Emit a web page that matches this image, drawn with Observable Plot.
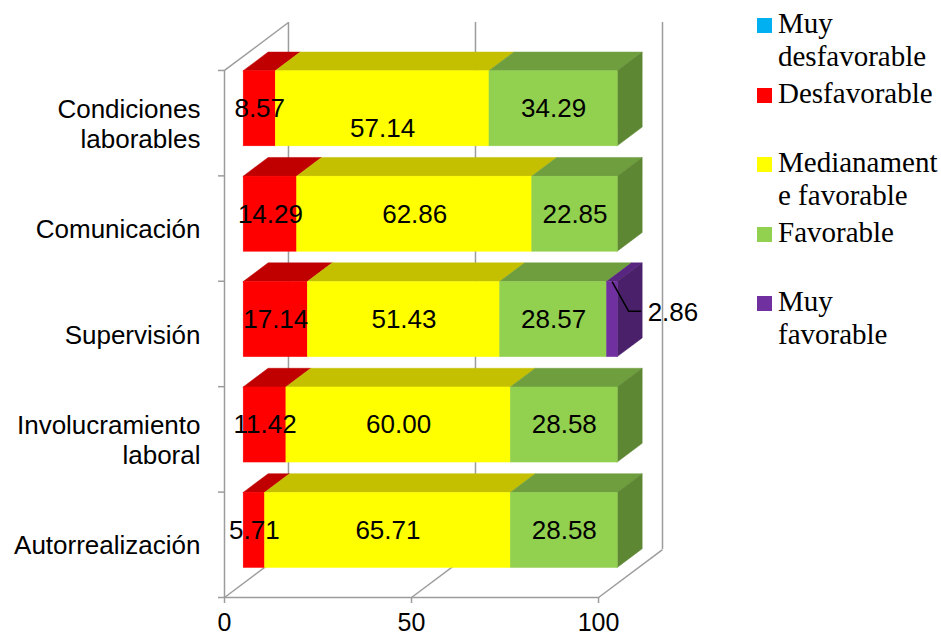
<!DOCTYPE html>
<html><head><meta charset="utf-8">
<script src="https://cdn.jsdelivr.net/npm/d3@7"></script>
<script src="https://cdn.jsdelivr.net/npm/@observablehq/plot@0.6"></script>
<style>
body{margin:0;background:#fff;}
#wrap{position:relative;width:941px;height:637px;overflow:hidden;}
#chart{position:absolute;left:0;top:0;}
.legend{position:absolute;left:757px;top:0;width:184px;height:400px;font-family:"Liberation Serif","Times New Roman",serif;font-size:29px;line-height:33px;color:#000;}
.item{position:absolute;left:0;white-space:pre;}
.sw{position:absolute;left:0;top:11px;width:15px;height:15px;}
.lbl{position:absolute;left:21px;top:0;}
</style></head><body><div id="wrap"><div id="chart"></div><div class="legend" id="legend"></div></div>
<script>
// ---- data ----
const categories = ["Condiciones laborables","Comunicación","Supervisión","Involucramiento laboral","Autorrealización"];
const categoryLabels = ["Condiciones\nlaborables","Comunicación","Supervisión","Involucramiento\nlaboral","Autorrealización"];
const series = ["Muy desfavorable","Desfavorable","Medianamente favorable","Favorable","Muy favorable"];
const legendLabels = ["Muy\ndesfavorable","Desfavorable","Medianament\ne favorable","Favorable","Muy\nfavorable"];
const muyDesfavorable = [0,0,0,0,0];
const desfavorable   = [8.57,14.29,17.14,11.42,5.71];
const medianamente   = [57.14,62.86,51.43,60.00,65.71];
const favorable      = [34.29,22.85,28.57,28.58,28.58];
const muyFavorable   = [0,0,2.86,0,0];
const xTicks = [0,50,100];

// ---- styles ----
const frontColor = ["#00B0F0","#FF0000","#FFFF00","#92D050","#7030A0"];
const topColor   = ["#0088BA","#C00000","#C4C000","#6F9E3F","#582680"];
const sideColor  = ["#0077A3","#A80000","#A8A500","#5E8733","#4A206B"];
const gridColor = "#9C9C9C";

// 3D oblique projection (depth in value units / row units)
const DX = 17.1, DY = 0.455, Z0 = 0.3, Z1 = 0.69, PAD = 0.144;
const X = (v, z) => v + z * DX;
const Y = (r, z) => r - z * DY;

const seriesValues = [muyDesfavorable, desfavorable, medianamente, favorable, muyFavorable];
const segs = [];
categories.forEach((c, i) => {
  let s = 0;
  seriesValues.forEach((vals, k) => {
    const v = vals[i];
    if (v > 0) { segs.push({i, k, c, v, s, e: s + v, id: i * 10 + k, last: false}); s += v; }
  });
  segs[segs.length - 1].last = true;
});
const topPts = segs.flatMap(d => [Z0, Z1].map(z => ({id: d.id, k: d.k, x1: X(d.s, z), x2: X(d.e, z), y: Y(d.i + PAD, z)})));
const sidePts = segs.filter(d => d.last).flatMap(d => [Z0, Z1].map(z => ({id: d.id, k: d.k, x: X(d.e, z), y1: Y(d.i + 1 - PAD, z), y2: Y(d.i + PAD, z)})));
const inside = segs.filter(d => d.v >= 4);
const outside = segs.filter(d => d.v < 4);
const leaderPts = outside.flatMap(d => [
  {id: d.id, x: X(d.s + d.v / 2, Z0), y: Y(d.i + PAD, Z0)},
  {id: d.id, x: X(d.e + 2.9, Z0), y: Y(d.i + 0.42, Z0)},
  {id: d.id, x: X(d.e + 6.1, Z0), y: Y(d.i + 0.42, Z0)}
]);
const rows = d3.range(categories.length + 1);

const chart = Plot.plot({
  width: 941, height: 637,
  marginLeft: 224, marginRight: 279, marginTop: 22, marginBottom: 40,
  x: {domain: [0, 100 + DX]},
  y: {domain: [-DY, categories.length], reverse: true},
  color: {type: "identity"},
  style: {fontFamily: "'Liberation Sans', Arial, sans-serif", fontSize: "26px", background: "white", overflow: "visible"},
  marks: [
    // back wall gridlines
    Plot.ruleX(xTicks, {x: d => X(d, 1), y1: Y(0, 1), y2: Y(categories.length, 1), stroke: gridColor, strokeWidth: 1.5}),
    // floor lines
    Plot.link(xTicks, {x1: d => d, y1: categories.length, x2: d => X(d, 1), y2: Y(categories.length, 1), stroke: gridColor, strokeWidth: 1.5}),
    // left wall
    Plot.ruleX([0], {y1: 0, y2: categories.length, stroke: gridColor, strokeWidth: 1.5}),
    Plot.link([0], {x1: 0, y1: 0, x2: X(0, 1), y2: Y(0, 1), stroke: gridColor, strokeWidth: 1.5}),
    // floor front edge
    Plot.ruleY([categories.length], {x1: 0, x2: 100, stroke: gridColor, strokeWidth: 1.5}),
    Plot.axisY(rows, {tickSize: 6, tickFormat: () => "", stroke: gridColor, strokeWidth: 1.5, label: null}),
    Plot.axisX(xTicks, {tickSize: 6, tickPadding: 10, stroke: gridColor, strokeWidth: 1.5, fontSize: 25, label: null}),
    // bars: top faces, side faces, front faces
    Plot.areaX(topPts, {x1: "x1", x2: "x2", y: "y", z: "id", fill: d => topColor[d.k], stroke: d => topColor[d.k], strokeWidth: 0.5}),
    Plot.areaY(sidePts, {x: "x", y1: "y1", y2: "y2", z: "id", fill: d => sideColor[d.k], stroke: d => sideColor[d.k], strokeWidth: 0.5}),
    Plot.rect(segs, {x1: d => X(d.s, Z0), x2: d => X(d.e, Z0), y1: d => Y(d.i + PAD, Z0), y2: d => Y(d.i + 1 - PAD, Z0), fill: d => frontColor[d.k], stroke: d => frontColor[d.k], strokeWidth: 0.5}),
    // data labels
    Plot.text(inside.filter(d => !(d.i === 0 && d.k === 2)), {x: d => X((d.s + d.e) / 2, Z0), y: d => Y(d.i + 0.5, Z0), text: d => d.v.toFixed(2), fontSize: 26, fill: "black"}),
    Plot.text(inside.filter(d => d.i === 0 && d.k === 2), {x: d => X((d.s + d.e) / 2, Z0), y: d => Y(d.i + 0.5, Z0), dy: 20, text: d => d.v.toFixed(2), fontSize: 26, fill: "black"}),
    Plot.line(leaderPts, {x: "x", y: "y", z: "id", stroke: "black", strokeWidth: 1.5}),
    Plot.text(outside, {x: d => X(d.e + 8, Z0), y: d => Y(d.i + 0.42, Z0), dy: 2, text: d => d.v.toFixed(2), textAnchor: "start", fontSize: 26, fill: "black"}),
    // category labels
    Plot.text(categoryLabels, {x: 0, y: (d, i) => i + 0.5, text: d => d, textAnchor: "end", dx: -24, lineHeight: 1.15, fontSize: 26, fill: "black"})
  ]
});
document.getElementById("chart").appendChild(chart);

// legend
const legendTops = [7, 77, 146, 216, 285];
const lg = document.getElementById("legend");
series.forEach((s, k) => {
  const it = document.createElement("div");
  it.className = "item";
  it.style.top = legendTops[k] + "px";
  const sw = document.createElement("div");
  sw.className = "sw"; sw.style.background = frontColor[k];
  const lb = document.createElement("div");
  lb.className = "lbl"; lb.textContent = legendLabels[k];
  it.appendChild(sw); it.appendChild(lb);
  lg.appendChild(it);
});
</script>
</body></html>
